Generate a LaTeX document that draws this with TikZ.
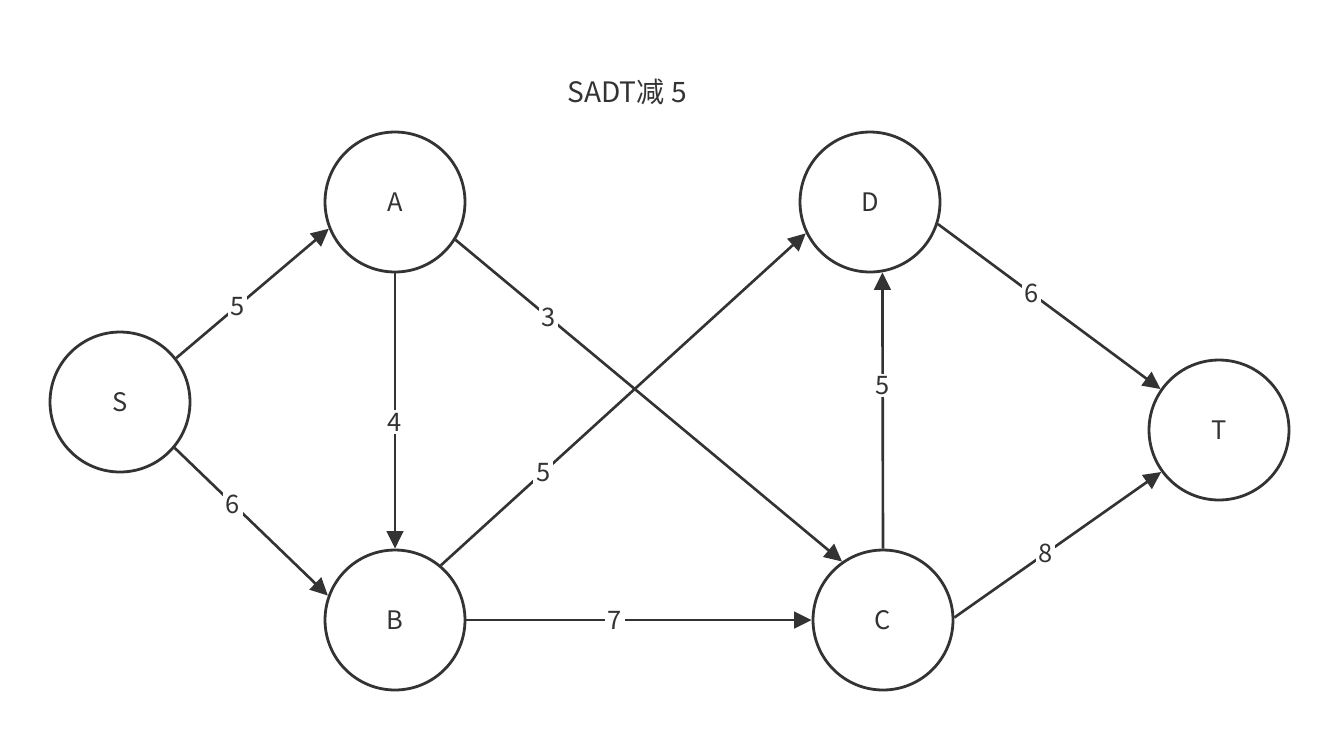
\documentclass[tikz,border=0pt]{standalone}
\usepackage{fontspec}
\setmainfont{Noto Sans CJK SC}
\usetikzlibrary{arrows.meta}
\definecolor{ink}{HTML}{333333}
\begin{document}
\begin{tikzpicture}[x=0.02cm,y=-0.02cm,
    vertex/.style={circle,draw=ink,line width=1.6pt,minimum size=2.8cm,inner sep=0pt,text=ink,font=\fontsize{14.5}{16}\selectfont},
    edge/.style={draw=ink,line width=1.5pt,-{Triangle[length=10pt,width=9.5pt]}},
    weight/.style={fill=white,text=ink,inner sep=1.5pt,font=\fontsize{14.5}{16}\selectfont}]
    \useasboundingbox (0,0) rectangle (1339,738);

    \node[text=ink,font=\fontsize{16}{18}\selectfont] (title) at (627,92) {SADT减 5};

    \node[vertex] (S) at (120,402) {S};
    \node[vertex] (A) at (395,202) {A};
    \node[vertex] (B) at (395,620) {B};
    \node[vertex] (C) at (883,620) {C};
    \node[vertex] (D) at (870,202) {D};
    \node[vertex] (T) at (1219,430) {T};

    \draw[edge] (S.38) -- node[weight,pos=0.4] {5} (A.202);
    \draw[edge] (S.320) -- node[weight,pos=0.38] {6} (B.160);
    \draw[edge] (A.south) -- node[weight,pos=0.54] {4} (B.north);
    \draw[edge] (A.328) -- node[weight,pos=0.24] {3} (C.125);
    \draw[edge] (B.50) -- node[weight,pos=0.28] {5} (D.206);
    \draw[edge] (B.east) -- node[weight,pos=0.43] {7} (C.west);
    \draw[edge] (C.north) -- node[weight,pos=0.59] {5} (D.280);
    \draw[edge] (D.342) -- node[weight,pos=0.42] {6} (T.145);
    \draw[edge] (C.2) -- node[weight,pos=0.44] {8} (T.216);
\end{tikzpicture}
\end{document}
